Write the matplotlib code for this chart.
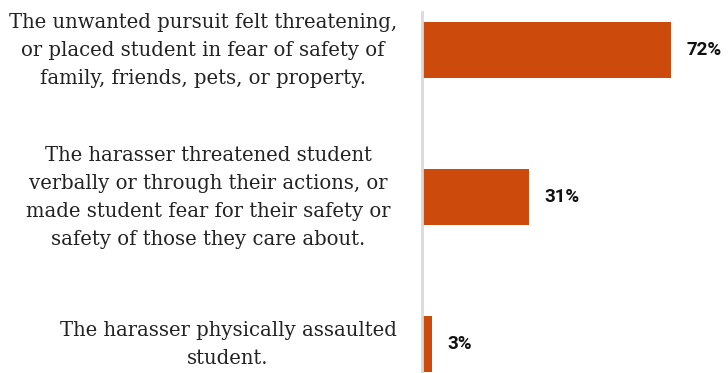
import numpy as np
import matplotlib.pyplot as plt

labels = [
    "The unwanted pursuit felt threatening,\nor placed student in fear of safety of\nfamily, friends, pets, or property.",
    "The harasser threatened student\nverbally or through their actions, or\nmade student fear for their safety or\nsafety of those they care about.",
    "The harasser physically assaulted\nstudent.",
]
values = [72, 31, 3]
value_labels = ["72%", "31%", "3%"]

bar_color = '#CD4A0D'
W, H = 728, 373

fig = plt.figure(figsize=(W / 100, H / 100), dpi=100)
# axes: left edge at the gray line, top at 12px, running off the bottom
ax = fig.add_axes([421.5 / W, 0, (W - 421.5) / W, (H - 12) / H])
ax.set_xlim(0, (W - 421.5) / 3.472)
ax.set_ylim(2.197, -0.2585)

y = np.arange(len(values))
ax.barh(y, values, height=0.381, color=bar_color)

for yi, v, t in zip(y, values, value_labels):
    ax.annotate(t, (v, yi), xytext=(11, 0), textcoords='offset points',
                ha='left', va='center', fontsize=13.5, fontweight='bold',
                family='Roboto', color='#111111')

# category labels, each block centred on its own x
label_x = [203, 208, 228]
for yi, t, lx in zip(y, labels, label_x):
    fy = ax.transData.transform((0, yi))[1]
    fig.text(lx / W, fy / H, t, ha='center', va='center', multialignment='center',
             fontsize=14.1, family='DejaVu Serif', linespacing=1.6, color='#222222')

for s in ['top', 'right', 'bottom']:
    ax.spines[s].set_visible(False)
ax.spines['left'].set_color('#D9D9D9')
ax.spines['left'].set_linewidth(2)
ax.set_xticks([])
ax.set_yticks([])

fig.savefig('out.png', dpi=100)
